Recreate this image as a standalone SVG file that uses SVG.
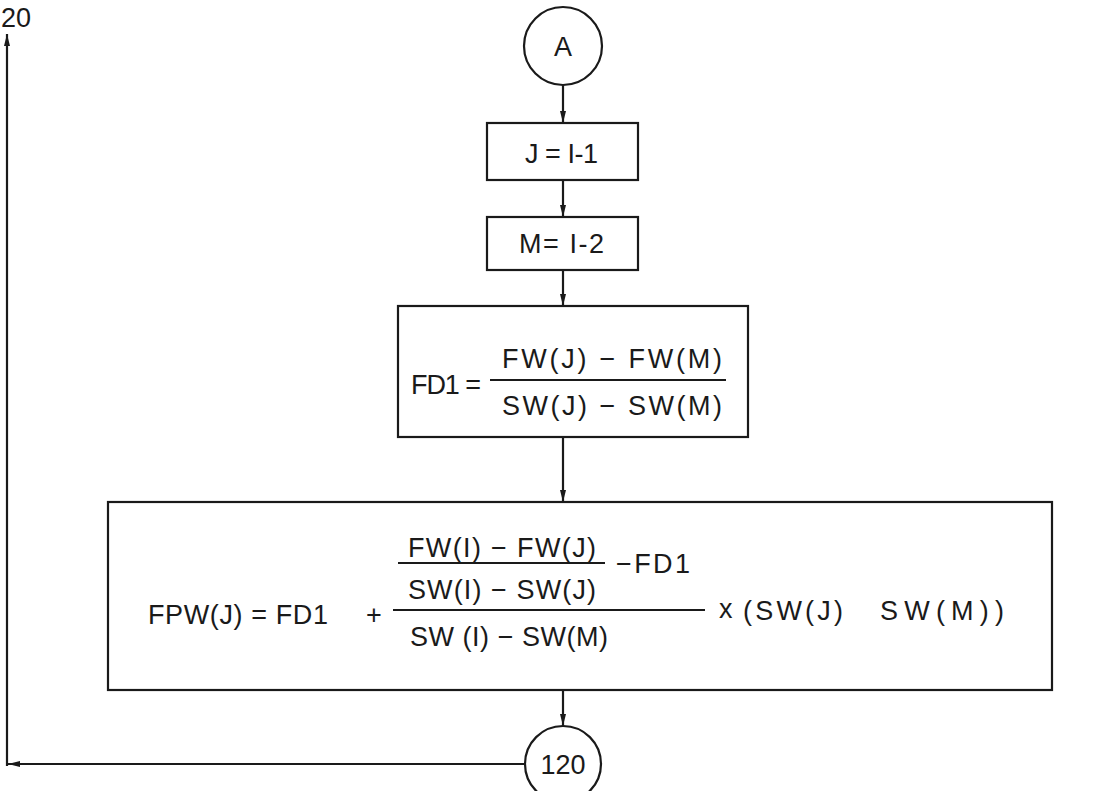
<svg xmlns="http://www.w3.org/2000/svg" width="1097" height="791" viewBox="0 0 1097 791">
<style>
.s{fill:none;stroke:#1a1a1a;stroke-width:2.2}
.n{fill:#fff;stroke:#1a1a1a;stroke-width:2.2}
.t{font-family:"Liberation Sans","DejaVu Sans",sans-serif;fill:#1a1a1a;font-size:27px}
.f{stroke:#1a1a1a;stroke-width:2.2}
</style>
<defs>
<marker id="ah" viewBox="0 0 12 8" refX="12" refY="4" markerWidth="12" markerHeight="8" markerUnits="userSpaceOnUse" orient="auto">
<path d="M0,1 L12,4 L0,7 z" fill="#1a1a1a"/>
</marker>
</defs>
<rect width="1097" height="791" fill="#fff"/>
<g id="connectors">
<line class="s" x1="563" y1="85" x2="563" y2="123" marker-end="url(#ah)"/>
<line class="s" x1="563" y1="180" x2="563" y2="217" marker-end="url(#ah)"/>
<line class="s" x1="563" y1="270" x2="563" y2="306" marker-end="url(#ah)"/>
<line class="s" x1="563" y1="437" x2="563" y2="502" marker-end="url(#ah)"/>
<line class="s" x1="563" y1="690" x2="563" y2="726" marker-end="url(#ah)"/>
<line class="s" x1="525" y1="764" x2="8" y2="764" marker-end="url(#ah)"/>
<line class="s" x1="7" y1="766" x2="7" y2="34" marker-end="url(#ah)"/>
</g>
<g id="label120">
<text class="t" x="1" y="27" font-size="28">20</text>
</g>
<g id="nodeA">
<circle class="n" cx="563" cy="46" r="39"/>
<text class="t" x="563" y="56" text-anchor="middle" font-size="27">A</text>
</g>
<g id="nodeJ">
<rect class="n" x="487" y="123" width="151" height="57"/>
<text class="t" x="525" y="163" font-size="25" textLength="73" lengthAdjust="spacing">J = I-1</text>
</g>
<g id="nodeM">
<rect class="n" x="487" y="217" width="151" height="53"/>
<text class="t" x="519" y="253" font-size="25" textLength="85" lengthAdjust="spacing">M= I-2</text>
</g>
<g id="nodeFD1">
<rect class="n" x="398" y="306" width="350" height="131"/>
<text class="t" x="411" y="394" textLength="70" lengthAdjust="spacing">FD1 =</text>
<line class="f" x1="490" y1="380" x2="726" y2="380"/>
<text class="t" x="502" y="368" textLength="220" lengthAdjust="spacing">FW(J) − FW(M)</text>
<text class="t" x="502" y="415" textLength="220" lengthAdjust="spacing">SW(J) − SW(M)</text>
</g>
<g id="nodeFPW">
<rect class="n" x="108" y="502" width="944" height="188"/>
<text class="t" x="148" y="624" textLength="180" lengthAdjust="spacing">FPW(J) = FD1</text>
<text class="t" x="366" y="624">+</text>
<line class="f" x1="398" y1="563" x2="605" y2="563"/>
<text class="t" x="408" y="557" textLength="188" lengthAdjust="spacing">FW(I) − FW(J)</text>
<text class="t" x="616" y="573" textLength="74" lengthAdjust="spacing">−FD1</text>
<text class="t" x="408" y="599" textLength="188" lengthAdjust="spacing">SW(I) − SW(J)</text>
<line class="f" x1="393" y1="610" x2="705" y2="610"/>
<text class="t" x="410" y="646" textLength="198" lengthAdjust="spacing">SW (I) − SW(M)</text>
<text class="t" x="719" y="618">x</text>
<text class="t" x="743" y="620" textLength="100" lengthAdjust="spacing">(SW(J)</text>
<text class="t" x="880" y="620" textLength="124" lengthAdjust="spacing">SW(M))</text>
</g>
<g id="node120">
<circle class="n" cx="563" cy="764" r="38"/>
<text class="t" x="563" y="774" text-anchor="middle" font-size="27">120</text>
</g>
</svg>
